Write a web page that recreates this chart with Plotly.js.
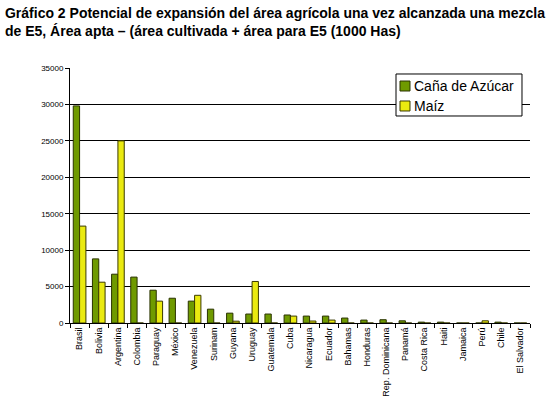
<!DOCTYPE html>
<html>
<head>
<meta charset="utf-8">
<script src="https://cdn.plot.ly/plotly-3.0.1.min.js"></script>
<style>html,body{margin:0;padding:0;background:#fff;}#chart{width:553px;height:398px;}</style>
</head>
<body>
<div id="chart"></div>
<script>
const countries = ["Brasil","Bolivia","Argentina","Colombia","Paraguay","México","Venezuela","Surinam","Guyana","Uruguay","Guatemala","Cuba","Nicaragua","Ecuador","Bahamas","Honduras","Rep. Dominicana","Panamá","Costa Rica","Haiti","Jamaica","Perú","Chile","El Salvador"];
const cana = [29800,8800,6700,6300,4500,3400,3000,1900,1350,1230,1230,1100,950,950,680,400,450,300,120,120,0,0,120,0];
const maiz = [13300,5600,25000,0,3000,0,3800,0,250,5700,0,950,270,400,0,0,0,0,0,0,0,300,0,0];
const yTicks = [0,5000,10000,15000,20000,25000,30000,35000];
const seriesNames = ["Caña de Azúcar","Maíz"];
const seriesColors = ["#6f9a00","#eaea10"];

const data = [
  {type:"bar", name:seriesNames[0], x:countries, y:cana,
   marker:{color:seriesColors[0], line:{color:"#2a3300", width:1}}},
  {type:"bar", name:seriesNames[1], x:countries, y:maiz,
   marker:{color:seriesColors[1], line:{color:"#3a3a00", width:1}}}
];

// custom legend (paper coordinates)
const shapes = [
  {type:"rect", xref:"paper", yref:"paper", x0:0.7087, x1:0.9826, y0:0.8118, y1:0.9765,
   fillcolor:"#fff", line:{color:"#000", width:1}, layer:"above"},
  {type:"rect", xref:"paper", yref:"paper", x0:0.7174, x1:0.7391, y0:0.9098, y1:0.949,
   fillcolor:seriesColors[0], line:{color:"#2a3300", width:1}, layer:"above"},
  {type:"rect", xref:"paper", yref:"paper", x0:0.7174, x1:0.7391, y0:0.8314, y1:0.8706,
   fillcolor:seriesColors[1], line:{color:"#3a3a00", width:1}, layer:"above"}
];
const annotations = [
  {xref:"paper", yref:"paper", x:0.7435, y:0.9294, xanchor:"left", yanchor:"middle", showarrow:false,
   text:seriesNames[0], font:{size:14, color:"#000"}},
  {xref:"paper", yref:"paper", x:0.7435, y:0.851, xanchor:"left", yanchor:"middle", showarrow:false,
   text:seriesNames[1], font:{size:14, color:"#000"}}
];

const layout = {
  width:553, height:398,
  margin:{l:70, r:23, t:68, b:75, pad:0},
  paper_bgcolor:"#fff", plot_bgcolor:"#fff",
  font:{family:"Liberation Sans, Arial, sans-serif", color:"#000"},
  title:{text:"<b>Gráfico 2 Potencial de expansión del área agrícola una vez alcanzada una mezcla<br>de E5, Área apta – (área cultivada + área para E5 (1000 Has)</b>",
         x:0.009, xanchor:"left", y:0.955, yanchor:"top", font:{size:14, color:"#000"}},
  barmode:"group", bargap:0.34, bargroupgap:0,
  showlegend:false,
  shapes:shapes, annotations:annotations,
  xaxis:{type:"category", tickangle:-90, tickfont:{size:9}, ticks:"outside", tickson:"boundaries",
         ticklen:4, tickcolor:"#000", showline:true, linecolor:"#000", linewidth:1, showgrid:false, automargin:false},
  yaxis:{range:[0,35000], tickvals:yTicks, ticktext:yTicks.map(String), tickfont:{size:8},
         ticks:"outside", ticklen:4, tickcolor:"#000", showline:true, linecolor:"#000", linewidth:1,
         showgrid:true, gridcolor:"#000", gridwidth:1, zeroline:false, automargin:false}
};
Plotly.newPlot("chart", data, layout, {displayModeBar:false, staticPlot:true});
</script>
</body>
</html>
